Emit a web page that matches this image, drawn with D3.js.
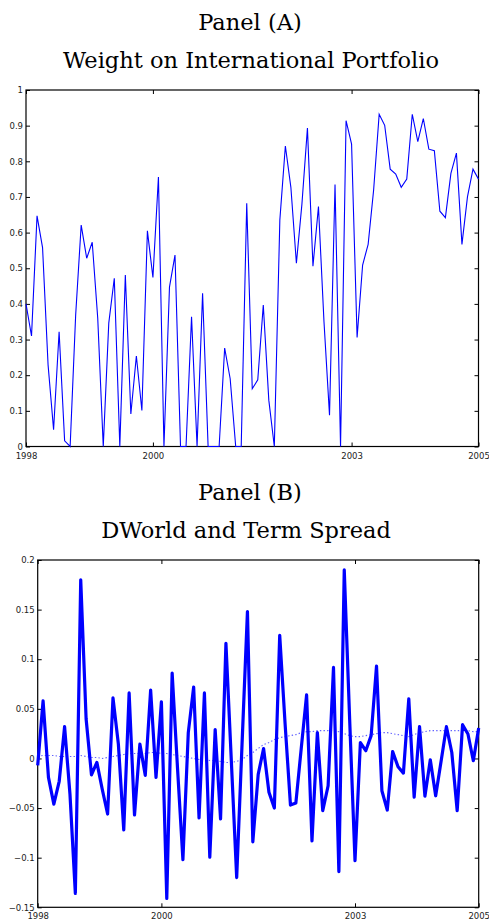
<!DOCTYPE html>
<head>
    <meta charset="utf-8">
</head>

<style type="text/css">
    body { margin: 0; background: #fff; }
    svg { display: block; }
    .title { font-family: "DejaVu Serif", serif; font-size: 22.5px; fill: #000; }
    .axis text { font-family: "DejaVu Sans", sans-serif; font-size: 8.5px; fill: #222; }
    .axis line { stroke: #000; stroke-width: 1; }
    .axis path.domain { display: none; }
    .frame { fill: none; stroke: #000; stroke-width: 1.2; }
    .weight-line { fill: none; stroke: #0000ff; stroke-width: 1.1; }
    .dworld-line { fill: none; stroke: #0000ff; stroke-width: 3.2; stroke-linejoin: round; }
    .term-line { fill: none; stroke: #3a3aff; stroke-width: 1.1; stroke-dasharray: 1.4 2.2; opacity: 0.8; }
</style>

<body>
<script src="https://cdn.jsdelivr.net/npm/d3@7"></script>
<script>

// monthly observations, index 0..82
var xTickIdx = [0, 23, 59, 82];
var xTickLabels = ["1998", "2000", "2003", "2005"];

// Panel A: weight on international portfolio
var weightIntl = [0.40,0.31,0.647,0.558,0.229,0.047,0.322,0.016,0,0.369,
    0.621,0.528,0.573,0.36,0,0.346,0.472,0,0.481,0.091,
    0.254,0.101,0.605,0.474,0.756,0,0.447,0.537,0,0,
    0.364,0,0.43,0,0,0,0.276,0.19,0,0,
    0.682,0.162,0.187,0.397,0.13,0,0.635,0.843,0.727,0.514,
    0.68,0.893,0.506,0.673,0.35,0.088,0.735,0,0.914,0.848,
    0.306,0.509,0.567,0.72,0.932,0.901,0.778,0.764,0.727,0.75,
    0.932,0.855,0.92,0.834,0.83,0.66,0.642,0.766,0.823,0.567,
    0.70,0.778,0.75];

// Panel B: DWorld (thick) and term spread (dotted)
var dWorld = [-0.007,0.058,-0.019,-0.046,-0.023,0.032,-0.036,-0.136,0.18,0.04,
    -0.0165,-0.004,-0.031,-0.056,0.061,0.0145,-0.072,0.066,-0.057,0.0145,
    -0.017,0.069,-0.019,0.057,-0.141,0.086,-0.01,-0.102,0.026,0.072,
    -0.06,0.066,-0.0995,0.029,-0.061,0.116,-0.002,-0.12,0.015,0.148,
    -0.084,-0.016,0.010,-0.034,-0.050,0.124,0.035,-0.047,-0.045,0.01,
    0.064,-0.083,0.026,-0.0527,-0.0275,0.0917,-0.114,0.19,0.04,-0.103,
    0.016,0.0078,0.023,0.093,-0.0325,-0.052,0.007,-0.0084,-0.0148,0.06,
    -0.039,0.032,-0.038,-0.0013,-0.0376,-0.003,0.032,0.006,-0.0527,0.034,
    0.0246,-0.0023,0.0306];

var termSpread = [0.002,0.003,0.003,0.003,0.002,0.002,
    0.002,0.002,0.003,0.002,0.001,
    0.001,0.000,0.001,0.002,0.003,
    0.004,0.005,0.005,0.005,0.005,
    0.006,0.006,0.005,0.005,0.004,
    0.003,0.002,0.001,0.000,-0.001,
    -0.001,-0.002,-0.002,-0.003,-0.004,
    -0.004,-0.003,-0.001,0.003,0.006,
    0.010,0.014,0.016,0.019,0.021,
    0.022,0.023,0.024,0.026,0.027,
    0.027,0.028,0.028,0.028,0.028,
    0.027,0.025,0.023,0.022,0.022,
    0.023,0.024,0.025,0.026,0.026,
    0.025,0.024,0.023,0.022,0.024,
    0.026,0.027,0.028,0.028,0.028,
    0.028,0.028,0.028,0.028,0.028,0.027,0.027];

var yTicksA = [0,0.1,0.2,0.3,0.4,0.5,0.6,0.7,0.8,0.9,1];
var yTicksB = [-0.15,-0.1,-0.05,0,0.05,0.1,0.15,0.2];

var svg = d3.select("body").append("svg")
    .attr("width", 489)
    .attr("height", 920);

function fmt(d) {
    return d3.format("")(+d.toFixed(2)).replace("-", "\u2212");
}

function drawPanel(box, yDomain, yTicks, titles) {
    var xscale = d3.scaleLinear().domain([0, 82]).range([box.left, box.right]);
    var yscale = d3.scaleLinear().domain(yDomain).range([box.bottom, box.top]);

    // titles
    titles.forEach(function(t, i) {
        svg.append("text")
            .attr("class", "title")
            .attr("x", box.titleX[i])
            .attr("y", box.titleY + i * 38)
            .attr("text-anchor", "middle")
            .text(t);
    });

    // inward ticks on all four sides
    svg.append("g").attr("class", "axis")
        .attr("transform", "translate(" + box.left + ",0)")
        .call(d3.axisLeft(yscale).tickValues(yTicks).tickSize(-4).tickPadding(3).tickFormat(fmt));
    svg.append("g").attr("class", "axis")
        .attr("transform", "translate(" + box.right + ",0)")
        .call(d3.axisRight(yscale).tickValues(yTicks).tickSize(-4).tickFormat(""));
    svg.append("g").attr("class", "axis")
        .attr("transform", "translate(0," + box.bottom + ")")
        .call(d3.axisBottom(xscale).tickValues(xTickIdx).tickSize(-4).tickPadding(6)
            .tickFormat(function(d, i) { return xTickLabels[i]; }));
    svg.append("g").attr("class", "axis")
        .attr("transform", "translate(0," + box.top + ")")
        .call(d3.axisTop(xscale).tickValues(xTickIdx).tickSize(-4).tickFormat(""));

    svg.append("rect")
        .attr("class", "frame")
        .attr("x", box.left)
        .attr("y", box.top)
        .attr("width", box.right - box.left)
        .attr("height", box.bottom - box.top);

    return function(d, i) { return [xscale(i), yscale(d)]; };
}

// Panel A
var ptA = drawPanel({left: 26, right: 478.5, top: 90, bottom: 446.5, titleX: [250, 251], titleY: 30},
    [0, 1], yTicksA, ["Panel (A)", "Weight on International Portfolio"]);

var lineA = d3.line()
    .x(function(d, i) { return ptA(d, i)[0]; })
    .y(function(d, i) { return ptA(d, i)[1]; });

svg.append("path").attr("class", "weight-line").attr("d", lineA(weightIntl));

// Panel B
var ptB = drawPanel({left: 37.7, right: 478.7, top: 560, bottom: 907.3, titleX: [250, 246], titleY: 500},
    [-0.15, 0.2], yTicksB, ["Panel (B)", "DWorld and Term Spread"]);

var lineB = d3.line()
    .x(function(d, i) { return ptB(d, i)[0]; })
    .y(function(d, i) { return ptB(d, i)[1]; });

svg.append("path").attr("class", "term-line").attr("d", lineB(termSpread));
svg.append("path").attr("class", "dworld-line").attr("d", lineB(dWorld));

</script>
</body>
